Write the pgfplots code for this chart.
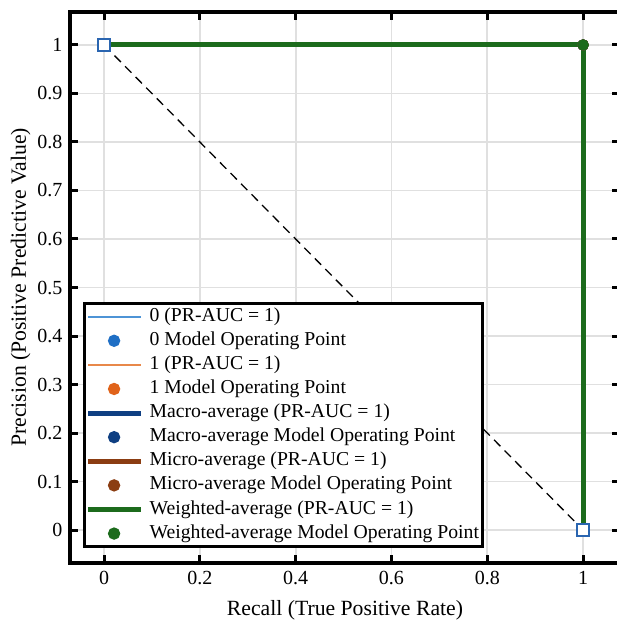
\documentclass[border=0pt]{standalone}
\usepackage{pgfplots}
\pgfplotsset{compat=1.18}
\usepackage{fontspec}
\setmainfont{Liberation Serif}

\definecolor{czeroline}{HTML}{4D94D6}
\definecolor{czerodot}{HTML}{1F6FC5}
\definecolor{coneline}{HTML}{E8884A}
\definecolor{conedot}{HTML}{E0631A}
\definecolor{cmacro}{HTML}{0F3F82}
\definecolor{cmicro}{HTML}{8B3D12}
\definecolor{cweighted}{HTML}{1C6B1C}
\definecolor{csquare}{HTML}{2A65B0}

\pgfplotsset{
  legline/.style={legend image code/.code={\draw[##1] (0pt,0pt) -- (53pt,0pt);}},
  legdot/.style={legend image code/.code={\draw[##1,mark size=4.6pt] plot coordinates {(26pt,0pt)};}},
}

\begin{document}
\begin{tikzpicture}
\begin{axis}[
    at={(0,0)}, anchor=south west,
    scale only axis,
    width=550pt, height=551pt,
    xmin=-0.071, xmax=1.077,
    ymin=-0.068, ymax=1.068,
    xtick={0,0.2,0.4,0.6,0.8,1},
    ytick={0,0.1,0.2,0.3,0.4,0.5,0.6,0.7,0.8,0.9,1},
    /pgf/number format/assume math mode=true,
    tick label style={font=\fontsize{20}{24}\selectfont},
    xticklabel style={yshift=-5pt},
    yticklabel style={xshift=-4pt},
    label style={font=\fontsize{21.7}{26}\selectfont},
    xlabel={Recall (True Positive Rate)},
    xlabel style={yshift=-8pt},
    ylabel={Precision (Positive Predictive Value)},
    grid=major,
    major grid style={color=black!12, line width=1.8pt},
    axis line style={line width=4pt},
    major tick length=8pt,
    every tick/.style={black, line width=3pt},
    legend cell align=left,
    legend style={
        at={(0.0238,0.027)}, anchor=south west,
        draw=black, line width=3pt,
        font=\fontsize{19.7}{22}\selectfont,
        inner sep=1pt,
        row sep=0pt,
        nodes={inner sep=3pt, text height=13.6pt, text depth=4.5pt},
        /tikz/every odd column/.append style={column sep=3pt},
    },
]
% diagonal reference
\addplot[forget plot, black, line width=1.3pt, dash pattern=on 9pt off 6pt] coordinates {(0,1) (1,0)};

\addplot[czeroline, line width=1.8pt, legline] coordinates {(0,1) (1,1) (1,0)};
\addlegendentry{0 (PR-AUC = 1)}
\addplot[only marks, mark=*, mark size=5.5pt, czerodot, legdot] coordinates {(1,1)};
\addlegendentry{0 Model Operating Point}
\addplot[coneline, line width=1.8pt, legline] coordinates {(0,1) (1,1) (1,0)};
\addlegendentry{1 (PR-AUC = 1)}
\addplot[only marks, mark=*, mark size=5.5pt, conedot, legdot] coordinates {(1,1)};
\addlegendentry{1 Model Operating Point}
\addplot[cmacro, line width=5pt, legline] coordinates {(0,1) (1,1) (1,0)};
\addlegendentry{Macro-average (PR-AUC = 1)}
\addplot[only marks, mark=*, mark size=5.5pt, cmacro, legdot] coordinates {(1,1)};
\addlegendentry{Macro-average Model Operating Point}
\addplot[cmicro, line width=5pt, legline] coordinates {(0,1) (1,1) (1,0)};
\addlegendentry{Micro-average (PR-AUC = 1)}
\addplot[only marks, mark=*, mark size=5.5pt, cmicro, legdot] coordinates {(1,1)};
\addlegendentry{Micro-average Model Operating Point}
\addplot[cweighted, line width=5pt, legline] coordinates {(0,1) (1,1) (1,0)};
\addlegendentry{Weighted-average (PR-AUC = 1)}
\addplot[only marks, mark=*, mark size=5.5pt, cweighted, legdot] coordinates {(1,1)};
\addlegendentry{Weighted-average Model Operating Point}

% end squares
\addplot[forget plot, only marks, mark=square*, mark size=6pt,
    mark options={fill=white, draw=csquare, line width=1.8pt}] coordinates {(0,1) (1,0)};
\end{axis}
\pgfresetboundingbox
\path[use as bounding box] (-70pt,-60pt) rectangle (546pt,563pt);
\end{tikzpicture}
\end{document}
